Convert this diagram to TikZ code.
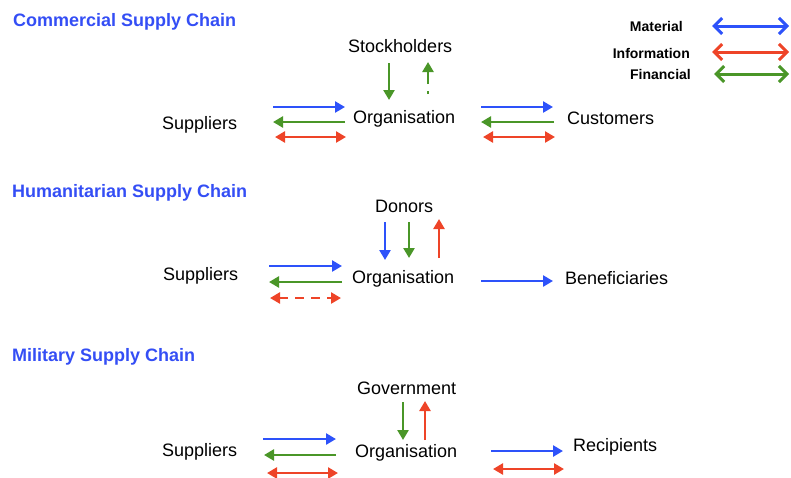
\documentclass[tikz,border=0pt]{standalone}
\usepackage{fontspec}
\setmainfont{Liberation Sans}
\usetikzlibrary{arrows.meta}
\definecolor{flowblue}{RGB}{45,82,250}
\definecolor{flowred}{RGB}{238,68,40}
\definecolor{flowgreen}{RGB}{74,150,40}
\definecolor{titleblue}{RGB}{52,78,245}
\tikzset{
  chaintitle/.style={font=\fontsize{18}{20}\selectfont\bfseries, text=titleblue,
                     anchor=base west, inner sep=0pt},
  party/.style={font=\fontsize{18}{20}\selectfont, anchor=base west, inner sep=0pt},
  keylab/.style={font=\fontsize{14}{16}\selectfont\bfseries, anchor=base east, inner sep=0pt},
  oneway/.style={line width=2.9pt, -{Triangle[length=10pt,width=11pt]}},
  twoway/.style={line width=2.9pt, {Triangle[length=10pt,width=11pt]}-{Triangle[length=10pt,width=11pt]}},
  mat/.style={oneway, color=flowblue},
  fin/.style={oneway, color=flowgreen},
  inf/.style={oneway, color=flowred},
  infboth/.style={twoway, color=flowred},
  keyarrow/.style={line width=3pt,
                   {Straight Barb[length=8pt,width=16pt]}-{Straight Barb[length=8pt,width=16pt]}},
}

\begin{document}
\begin{tikzpicture}[x=1pt,y=-1pt]
  \path[use as bounding box] (0,0) rectangle (791,477);

  % legend
  \node[keylab] (kmat) at (683,31) {Material};
  \node[keylab] (kinf) at (690,58) {Information};
  \node[keylab] (kfin) at (691,79) {Financial};
  \coordinate (kmat-a) at (712,26);  \coordinate (kmat-b) at (789,26);
  \coordinate (kinf-a) at (712,52);  \coordinate (kinf-b) at (789,52);
  \coordinate (kfin-a) at (714,74);  \coordinate (kfin-b) at (789,74);
  \draw[keyarrow, flowblue] (kmat-a) -- (kmat-b);
  \draw[keyarrow, flowred] (kinf-a) -- (kinf-b);
  \draw[keyarrow, flowgreen] (kfin-a) -- (kfin-b);

  % commercial
  \node[chaintitle] (comtitle) at (13,26) {Commercial Supply Chain};
  \node[party] (comstk) at (348,52) {Stockholders};
  \node[party] (comorg) at (353,123) {Organisation};
  \node[party] (comsup) at (162,129) {Suppliers};
  \node[party] (comcus) at (567,124) {Customers};
  \coordinate (c1) at (273,107);  \coordinate (c2) at (345,107);
  \coordinate (c3) at (273,122);  \coordinate (c4) at (345,122);
  \coordinate (c5) at (275,137);  \coordinate (c6) at (346,137);
  \coordinate (c7) at (481,107);  \coordinate (c8) at (553,107);
  \coordinate (c9) at (481,122);  \coordinate (c10) at (554,122);
  \coordinate (c11) at (483,137); \coordinate (c12) at (555,137);
  \coordinate (c13) at (389,63);  \coordinate (c14) at (389,100);
  \coordinate (c15) at (428,94);  \coordinate (c16) at (428,62);
  \draw[mat] (c1) -- (c2);
  \draw[fin] (c4) -- (c3);
  \draw[infboth] (c5) -- (c6);
  \draw[mat] (c7) -- (c8);
  \draw[fin] (c10) -- (c9);
  \draw[infboth] (c11) -- (c12);
  \draw[fin] (c13) -- (c14);
  \draw[fin, dash pattern=on 3pt off 7pt on 20pt off 7pt] (c15) -- (c16);

  % humanitarian
  \node[chaintitle] (humtitle) at (12,197) {Humanitarian Supply Chain};
  \node[party] (humdon) at (375,212) {Donors};
  \node[party] (humorg) at (352,283) {Organisation};
  \node[party] (humsup) at (163,280) {Suppliers};
  \node[party] (humben) at (565,284) {Beneficiaries};
  \coordinate (h1) at (269,266);  \coordinate (h2) at (342,266);
  \coordinate (h3) at (269,282);  \coordinate (h4) at (342,282);
  \coordinate (h5) at (270,298);  \coordinate (h6) at (341,298);
  \coordinate (h7) at (481,281);  \coordinate (h8) at (553,281);
  \coordinate (h9) at (385,222);  \coordinate (h10) at (385,260);
  \coordinate (h11) at (409,222); \coordinate (h12) at (409,258);
  \coordinate (h13) at (439,258); \coordinate (h14) at (439,219);
  \draw[mat] (h1) -- (h2);
  \draw[fin] (h4) -- (h3);
  \draw[infboth, dash pattern=on 9pt off 7pt] (h5) -- (h6);
  \draw[mat] (h7) -- (h8);
  \draw[mat] (h9) -- (h10);
  \draw[fin] (h11) -- (h12);
  \draw[inf] (h13) -- (h14);

  % military
  \node[chaintitle] (miltitle) at (12,361) {Military Supply Chain};
  \node[party] (milgov) at (357,394) {Government};
  \node[party] (milorg) at (355,457) {Organisation};
  \node[party] (milsup) at (162,456) {Suppliers};
  \node[party] (milrec) at (573,451) {Recipients};
  \coordinate (m1) at (263,439);  \coordinate (m2) at (336,439);
  \coordinate (m3) at (264,455);  \coordinate (m4) at (336,455);
  \coordinate (m5) at (267,473);  \coordinate (m6) at (338,473);
  \coordinate (m7) at (491,451);  \coordinate (m8) at (563,451);
  \coordinate (m9) at (493,469);  \coordinate (m10) at (564,469);
  \coordinate (m11) at (403,402); \coordinate (m12) at (403,440);
  \coordinate (m13) at (425,440); \coordinate (m14) at (425,401);
  \draw[mat] (m1) -- (m2);
  \draw[fin] (m4) -- (m3);
  \draw[infboth] (m5) -- (m6);
  \draw[mat] (m7) -- (m8);
  \draw[infboth] (m9) -- (m10);
  \draw[fin] (m11) -- (m12);
  \draw[inf] (m13) -- (m14);
\end{tikzpicture}
\end{document}
